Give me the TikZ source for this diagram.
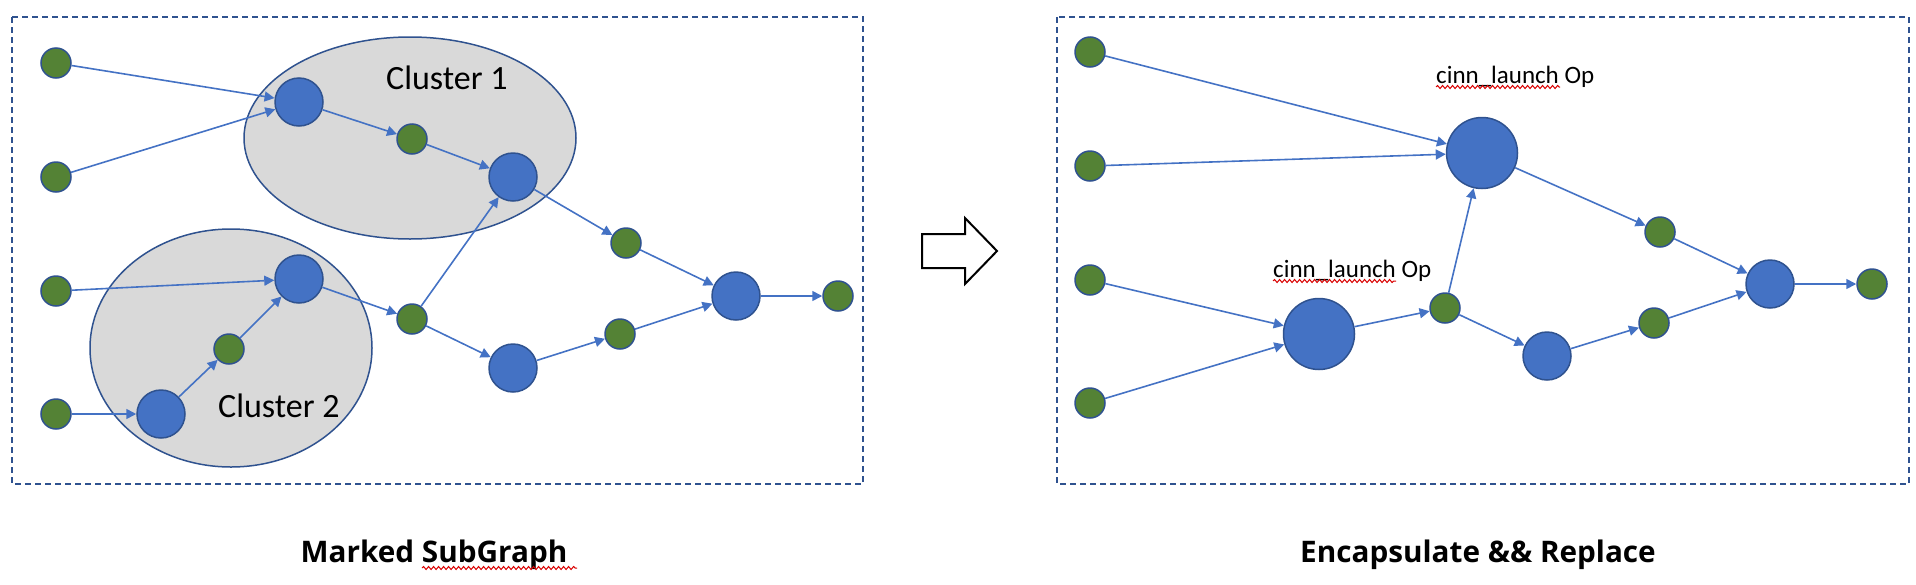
\documentclass[tikz,border=0pt]{standalone}
\usepackage{xcolor}
\usepackage{fontspec}
\usepackage{tikz}
\usetikzlibrary{arrows.meta, shapes.geometric, decorations.pathmorphing}

\newfontfamily\labelfont{Carlito}
\newfontfamily\captionfont{Open Sans}

\definecolor{opblue}{HTML}{4472C4}
\definecolor{vargreen}{HTML}{548235}
\definecolor{rimblue}{HTML}{2F528F}
\definecolor{clustergray}{HTML}{D9D9D9}

\begin{document}
\begin{tikzpicture}[
  x=1pt, y=-1pt,
  varnode/.style={
    circle,
    draw=rimblue,
    fill=vargreen,
    line width=1.5pt,
    inner sep=0pt,
    minimum size=30pt
  },
  opnode/.style={
    circle,
    draw=rimblue,
    fill=opblue,
    line width=1.5pt,
    inner sep=0pt,
    minimum size=48pt
  },
  fusedop/.style={
    opnode,
    minimum size=71pt
  },
  cluster/.style={
    ellipse,
    draw=rimblue,
    fill=clustergray,
    line width=1.5pt,
    inner sep=0pt
  },
  connection/.style={
    -{Triangle[length=10pt, width=10pt]},
    line width=1.6pt,
    draw=opblue
  },
  frame/.style={
    draw=rimblue,
    line width=1.5pt,
    dash pattern=on 6pt off 4pt
  },
  spellmark/.style={
    draw=red!85!black,
    line width=1pt,
    decorate,
    decoration={snake, amplitude=1.5pt, segment length=5pt}
  },
  clusterlabel/.style={font=\labelfont\fontsize{34}{40}\selectfont, anchor=base west, inner sep=0pt},
  oplabel/.style={font=\labelfont\fontsize{25}{30}\selectfont, anchor=base west, inner sep=0pt},
  caption/.style={font=\captionfont\bfseries\fontsize{29.7}{36}\selectfont, anchor=base, inner sep=0pt}
]
\useasboundingbox (0,0) rectangle (1916,584);

% Frames round the two graphs
\draw[frame] (12,17) rectangle (863,484);
\draw[frame] (1057,17) rectangle (1909,484);

% Clusters of the marked subgraph
\node[cluster, minimum width=332pt, minimum height=202pt] (cl1) at (410,138) {};
\node[cluster, minimum width=282pt, minimum height=238pt] (cl2) at (231,348) {};
\node[clusterlabel] (cl1txt) at (386,89) {Cluster 1};
\node[clusterlabel] (cl2txt) at (218,417) {Cluster 2};

% Left graph nodes
\node[varnode] (lg1) at (56,63) {};
\node[varnode] (lg2) at (56,177) {};
\node[varnode] (lg3) at (56,291) {};
\node[varnode] (lg4) at (56,414) {};
\node[opnode] (lb1) at (299,102) {};
\node[varnode] (lc1) at (412,139) {};
\node[opnode] (lb2) at (513,177) {};
\node[opnode] (lb3) at (299,279) {};
\node[varnode] (lc2) at (229,349) {};
\node[opnode] (lb4) at (161,414) {};
\node[varnode] (lm1) at (412,319) {};
\node[opnode] (lb5) at (513,368) {};
\node[varnode] (lm2) at (626,243) {};
\node[varnode] (lm3) at (620,334) {};
\node[opnode] (lb6) at (736,296) {};
\node[varnode] (lout) at (838,296) {};

% Left graph connections
\draw[connection] (lg1) -- (lb1);
\draw[connection] (lg2) -- (lb1);
\draw[connection] (lb1) -- (lc1);
\draw[connection] (lc1) -- (lb2);
\draw[connection] (lb2) -- (lm2);
\draw[connection] (lm2) -- (lb6);
\draw[connection] (lg3) -- (lb3);
\draw[connection] (lg4) -- (lb4);
\draw[connection] (lb4) -- (lc2);
\draw[connection] (lc2) -- (lb3);
\draw[connection] (lb3) -- (lm1);
\draw[connection] (lm1) -- (lb2);
\draw[connection] (lm1) -- (lb5);
\draw[connection] (lb5) -- (lm3);
\draw[connection] (lm3) -- (lb6);
\draw[connection] (lb6) -- (lout);

% Hollow block arrow between the two graphs
\draw[line width=2pt, fill=white] (922,234) -- (965,234) -- (965,218) -- (997,251)
  -- (965,284) -- (965,268) -- (922,268) -- cycle;

% Right graph nodes
\node[varnode] (rg1) at (1090,52) {};
\node[varnode] (rg2) at (1090,166) {};
\node[varnode] (rg3) at (1090,280) {};
\node[varnode] (rg4) at (1090,403) {};
\node[fusedop] (rf1) at (1482,153) {};
\node[fusedop] (rf2) at (1319,334) {};
\node[varnode] (rm1) at (1445,308) {};
\node[opnode] (rb1) at (1547,356) {};
\node[varnode] (rm2) at (1660,232) {};
\node[varnode] (rm3) at (1654,323) {};
\node[opnode] (rb2) at (1770,284) {};
\node[varnode] (rout) at (1872,284) {};

% Right graph connections
\draw[connection] (rg1) -- (rf1);
\draw[connection] (rg2) -- (rf1);
\draw[connection] (rg3) -- (rf2);
\draw[connection] (rg4) -- (rf2);
\draw[connection] (rf2) -- (rm1);
\draw[connection] (rm1) -- (rf1);
\draw[connection] (rf1) -- (rm2);
\draw[connection] (rm2) -- (rb2);
\draw[connection] (rm1) -- (rb1);
\draw[connection] (rb1) -- (rm3);
\draw[connection] (rm3) -- (rb2);
\draw[connection] (rb2) -- (rout);

% Labels of the encapsulated ops
\node[oplabel] (op1txt) at (1436,83) {cinn\_launch Op};
\node[oplabel] (op2txt) at (1273,277) {cinn\_launch Op};
\draw[spellmark] (1436,87) -- (1560,87);
\draw[spellmark] (1273,281) -- (1396,281);

% Captions
\node[caption] (leftcap) at (434,562) {Marked SubGraph};
\node[caption] (rightcap) at (1478,562) {Encapsulate \&\& Replace};
\draw[spellmark] (422,568) -- (577,568);
\end{tikzpicture}
\end{document}
